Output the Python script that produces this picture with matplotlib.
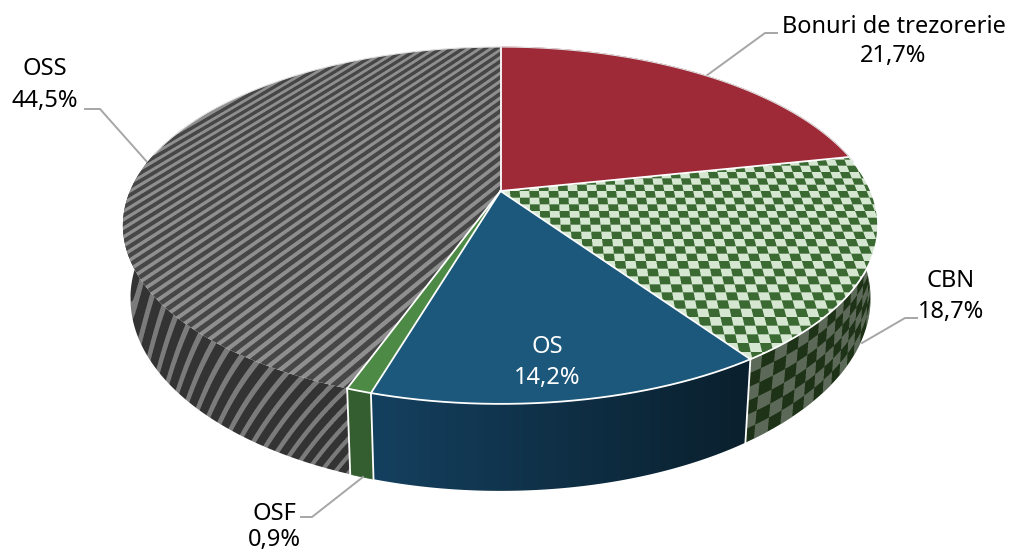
"""
    3D pie of the debt structure, drawn with a perspective mapping of
a circle. Textures are rendered per pixel and clipped to each slice.
"""
import matplotlib
matplotlib.use('Agg')
import matplotlib.pyplot as plt
import numpy as np
from matplotlib.patches import Polygon

NAMES = ['Bonuri de trezorerie', 'CBN', 'OS', 'OSF', 'OSS']
VALUES = [21.7, 18.7, 14.2, 0.9, 44.5]
VALUE_LABELS = ['21,7%', '18,7%', '14,2%', '0,9%', '44,5%']

WIDTH, HEIGHT = 1009, 554
CX, CY = 500.5, 191.0
RX, RY = 370.5, 171.8
K = 0.193
DROP = 70.2
SHRINK = 0.98
SS = 3


def plane_to_screen(theta):
    """Map an angle (clockwise from the top) to the top rim of the pie."""
    u, v = np.sin(theta), np.cos(theta)
    w = 1 + K * v
    return CX + RX * u / w, CY - RY * v / w


def bottom_rim(theta):
    """Return the lower rim of the pie for an angle."""
    x, y = plane_to_screen(theta)
    w = 1 + K * np.cos(theta)
    return CX + (x - CX) * SHRINK, y + DROP / w


def pixel_grid():
    """Supersampled pixel coordinates of the whole canvas."""
    xs = (np.arange(WIDTH * SS) + 0.5) / SS
    ys = (np.arange(HEIGHT * SS) + 0.5) / SS
    return np.meshgrid(xs, ys)


def down(image):
    """Average the supersampled image down to canvas size."""
    return image.reshape(HEIGHT, SS, WIDTH, SS, 3).mean(axis=(1, 3))


def blend(mask, dark, light):
    """Mix two colours with a 0-1 mask."""
    dark = np.array(matplotlib.colors.to_rgb(dark))
    light = np.array(matplotlib.colors.to_rgb(light))
    return dark + mask[..., None] * (light - dark)


def plane_coords(px, py):
    """Invert the perspective mapping for pixels on the top face."""
    b = (CY - py) / RY
    v = b / (1 - K * b)
    w = 1 + K * v
    u = (px - CX) / RX * w
    return u, v


def side_height(px, py):
    """Fraction of the pie's height for pixels on the side wall."""
    # only the front of the rim, the back would fold the lookup over itself
    thetas = np.linspace(np.radians(101), np.radians(259), 800)
    tx, ty = plane_to_screen(thetas)
    bx, by = bottom_rim(thetas)
    order = np.argsort(tx)
    top = np.interp(px, tx[order], ty[order])
    order = np.argsort(bx)
    low = np.interp(px, bx[order], by[order])
    return np.clip((py - top) / np.maximum(low - top, 1), 0, 1)


def textures():
    """Render the four textures used on the slices."""
    px, py = pixel_grid()
    u, v = plane_coords(px, py)
    t = side_height(px, py)

    phase = u / 0.036 - v / 0.062
    oss_top = blend(np.mod(phase, 1) < 0.45, '#474747', '#909090')

    cells = (np.floor(u / 0.026).astype(int) + np.floor(v / 0.0378).astype(int)) % 2
    cbn_top = blend(cells, '#3a6a32', '#d6e6d2')

    # stripes get narrower towards the left edge of the wall
    stripe_w = 10 + 5 * np.clip((px - 125) / 125, 0, 1)
    along = 25 * np.log(stripe_w) + np.maximum(px - 250, 0) / 15
    slant = 1.0 + 4.0 * np.clip((px - 130) / 220, 0, 1)
    phase = along + t * slant
    oss_side = blend(np.mod(phase, 1) < 0.36, '#343434', '#7c7c7c')

    cell_w = np.clip(15 - 10 * (px - 745) / 130, 4, 15)
    column = -13 * np.log(cell_w) + t * 0.6
    cells = (np.floor(column).astype(int) + np.floor(t * 6).astype(int)) % 2
    cbn_side = blend(cells, '#1d3316', '#5c6a58')

    mix = np.clip((px - 372) / 370, 0, 1)
    os_side = blend(mix, '#14405f', '#0a202e')

    return {'oss_top': down(oss_top), 'cbn_top': down(cbn_top),
            'oss_side': down(oss_side), 'cbn_side': down(cbn_side),
            'os_side': down(os_side)}


def top_face(start, stop):
    """Outline of one slice on the top face."""
    thetas = np.linspace(start, stop, 200)
    x, y = plane_to_screen(thetas)
    return np.column_stack([np.r_[CX, x], np.r_[CY, y]])


def side_face(start, stop):
    """Outline of one slice on the side wall."""
    thetas = np.linspace(start, stop, 200)
    x, y = plane_to_screen(thetas)
    bx, by = bottom_rim(thetas)
    return np.column_stack([np.r_[x, bx[::-1]], np.r_[y, by[::-1]]])


def fill(axes, outline, color=None, image=None, zorder=1):
    """Fill an outline with a plain colour or a clipped texture."""
    if image is None:
        axes.add_patch(Polygon(outline, closed=True, facecolor=color,
                               edgecolor=color, linewidth=0.5, zorder=zorder))
        return
    patch = Polygon(outline, closed=True, facecolor='none', edgecolor='none',
                    transform=axes.transData)
    axes.add_patch(patch)
    shown = axes.imshow(image, extent=(0, WIDTH, HEIGHT, 0), interpolation='none',
                        aspect='auto', zorder=zorder)
    shown.set_clip_path(patch)


def draw_pie(axes):
    """Draw side walls, top faces and the white separators."""
    edges = np.r_[0, np.cumsum(VALUES)] / np.sum(VALUES) * 2 * np.pi
    tex = textures()

    # side walls, the far end of OSS and CBN is hidden by the top
    fill(axes, side_face(edges[4], np.radians(285)), image=tex['oss_side'], zorder=1)
    fill(axes, side_face(edges[3], edges[4]), color='#345e2f', zorder=1.1)
    fill(axes, side_face(edges[2], edges[3]), image=tex['os_side'], zorder=1.2)
    fill(axes, side_face(edges[1], edges[2]), image=tex['cbn_side'], zorder=1.3)

    fill(axes, top_face(edges[0], edges[1]), color='#9e2a37', zorder=2)
    fill(axes, top_face(edges[1], edges[2]), image=tex['cbn_top'], zorder=2)
    fill(axes, top_face(edges[2], edges[3]), color='#1b587c', zorder=2)
    fill(axes, top_face(edges[3], edges[4]), color='#4d8a45', zorder=2)
    fill(axes, top_face(edges[4], edges[5]), image=tex['oss_top'], zorder=2)

    for edge in edges[:5]:
        x, y = plane_to_screen(edge)
        axes.plot([CX, x], [CY, y], color='white', linewidth=1.3, zorder=3)
    for edge in edges[2:5]:
        x, y = plane_to_screen(edge)
        bx, by = bottom_rim(edge)
        axes.plot([x, bx], [y, by], color='white', linewidth=1.3, zorder=3)

    # front rim in white, back rim in a thin light grey
    x, y = plane_to_screen(np.linspace(edges[1], edges[4], 300))
    axes.plot(x, y, color='white', linewidth=1.3, zorder=3)
    x, y = plane_to_screen(np.linspace(np.radians(283), np.radians(440), 300))
    axes.plot(x, y, color='#e0e0e0', linewidth=0.8, zorder=3)


def draw_labels(axes):
    """Draw the leader lines and the slice labels."""
    leaders = [[(706, 76), (765, 33), (777, 33)],
               [(148, 163), (100, 109), (85, 109)],
               [(862, 343), (905, 318), (917, 318)],
               [(363, 477), (312, 517), (301, 517)]]
    for leader in leaders:
        xs, ys = zip(*leader)
        axes.plot(xs, ys, color='#a6a6a6', linewidth=1.4, zorder=1.5)

    places = {'Bonuri de trezorerie': (894, 27, 893, 56),
              'CBN': (951, 281, 951, 312),
              'OS': (547, 347, 547, 378),
              'OSF': (274, 514, 274, 540),
              'OSS': (45, 69, 45, 101)}
    for name, value in zip(NAMES, VALUE_LABELS):
        color = 'white' if name == 'OS' else 'black'
        x1, y1, x2, y2 = places[name]
        axes.text(x1, y1, name, ha='center', va='center', fontsize=17,
                  color=color, zorder=5)
        axes.text(x2, y2, value, ha='center', va='center', fontsize=17,
                  color=color, zorder=5)


def main():
    """Build the figure and save it."""
    plt.rcParams['font.family'] = ['Noto Sans', 'DejaVu Sans']
    figure = plt.figure(figsize=(WIDTH / 100, HEIGHT / 100), dpi=100)
    axes = figure.add_axes([0, 0, 1, 1])
    draw_pie(axes)
    draw_labels(axes)
    axes.set_xlim(0, WIDTH)
    axes.set_ylim(HEIGHT, 0)
    axes.axis('off')
    figure.savefig('out.png', dpi=100)


if __name__ == '__main__':
    main()
